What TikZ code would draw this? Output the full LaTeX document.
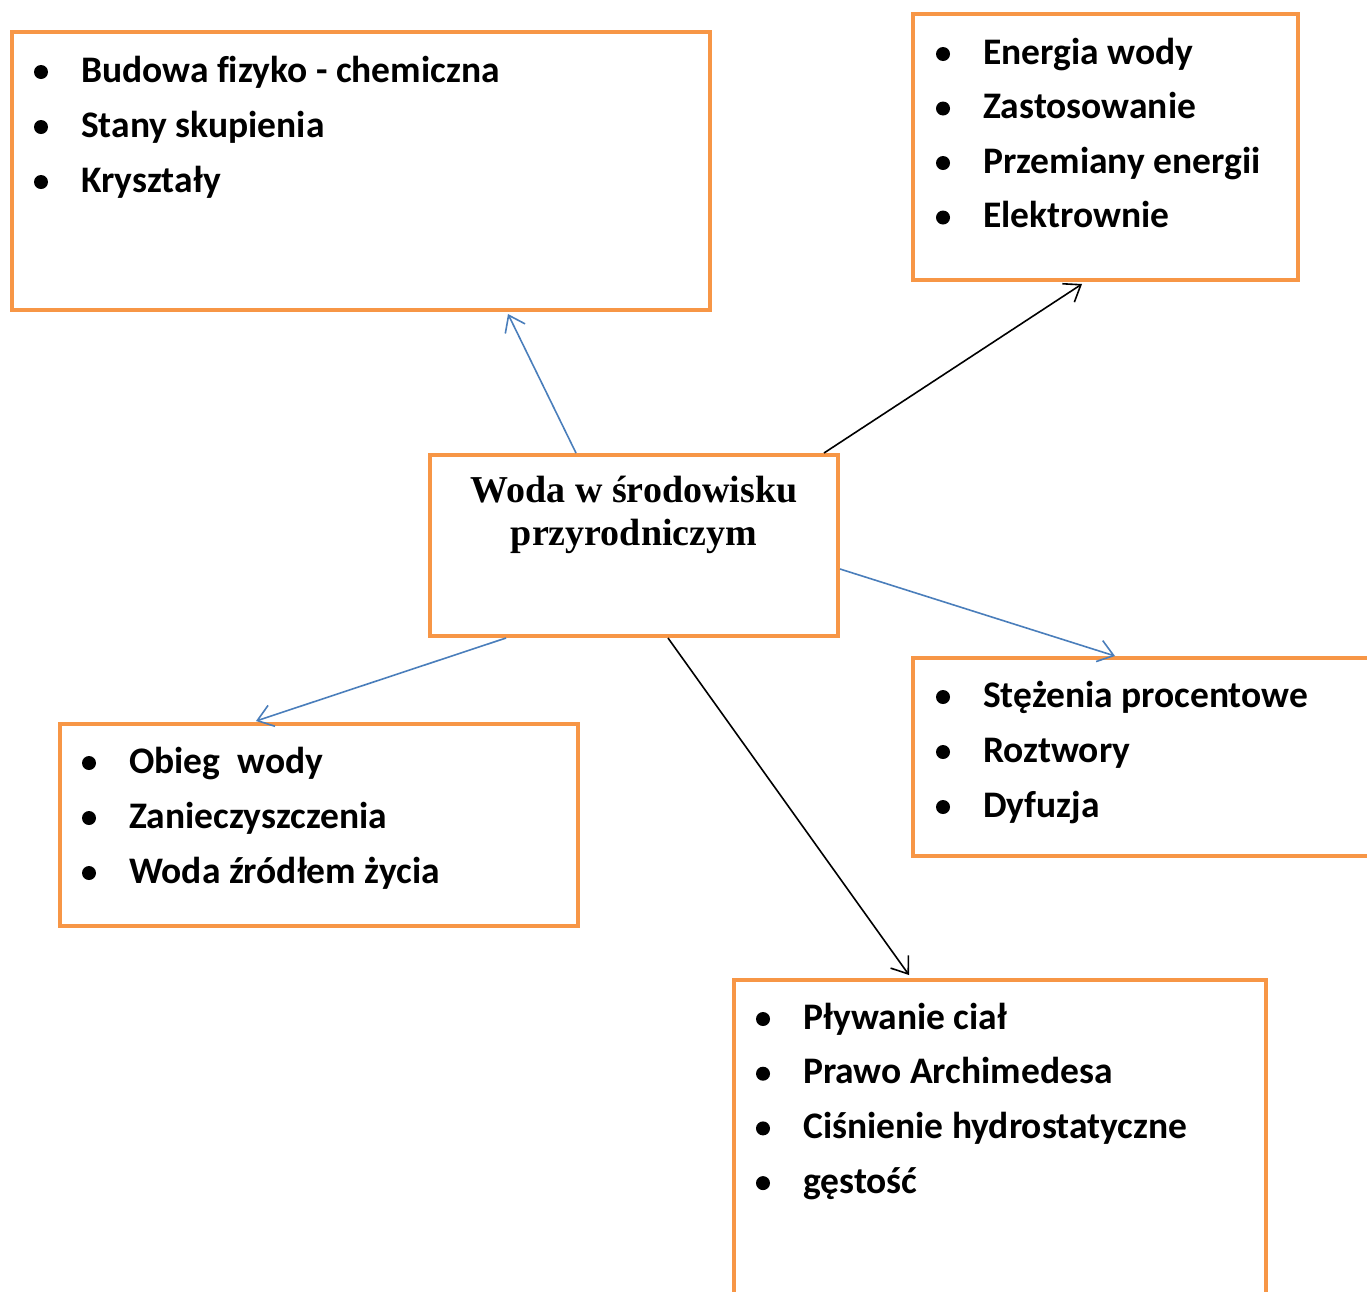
\documentclass[tikz,border=0pt]{standalone}
\usepackage{fontspec}
\setmainfont[Ligatures=NoCommon]{Carlito}
\newfontfamily\tnrfont{Liberation Serif}
\usetikzlibrary{arrows.meta,calc}
\definecolor{boxorange}{HTML}{F79646}
\definecolor{lineblue}{HTML}{4A7EBB}
\begin{document}
\begin{tikzpicture}[x=1pt,y=-1pt,
  box/.style={draw=boxorange, line width=4pt, inner sep=0pt, fill=none},
  item/.style={anchor=base west, inner sep=0pt, font=\fontsize{37.5}{44}\selectfont\bfseries},
  bul/.style={circle, fill=black, inner sep=0pt, minimum size=14pt},
  conn/.style={line width=1.6pt, -{Straight Barb[length=15pt,width=22pt,line width=1.6pt]}},
  blueconn/.style={conn, draw=lineblue},
  blackconn/.style={conn, draw=black}
]
\useasboundingbox (0,0) rectangle (1367,1291);
\fill[white] (0,0) rectangle (1367,1291);

\node[box, minimum width=698pt, minimum height=278pt] (b1) at (361,171) {};
\node[box, minimum width=385pt, minimum height=266pt] (b2) at (1105.5,147) {};
\node[box, minimum width=408pt, minimum height=181pt] (bc) at (634,545.5) {};
\node[box, minimum width=467pt, minimum height=198pt] (b4) at (1146.5,757) {};
\node[box, minimum width=518pt, minimum height=202pt] (b5) at (319,825) {};
\node[box, minimum width=532pt, minimum height=330pt] (b6) at (1000,1145) {};

\node[anchor=base, inner sep=0pt, align=center, font=\tnrfont\fontsize{38}{43}\selectfont\bfseries] (title) at (634,545) {Woda w środowisku\\przyrodniczym};

\foreach \t [count=\i] in {Budowa fizyko - chemiczna, Stany skupienia, Kryształy} {
  \node[item, name=ta\i] at ($(b1.north west)+(71,52+55*\i-55)$) {\t};
  \node[bul, name=da\i] at ($(ta\i.base west)+(-40,-10)$) {};
}
\foreach \t [count=\i] in {Energia wody, Zastosowanie, Przemiany energii, Elektrownie} {
  \node[item, name=tb\i] at ($(b2.north west)+(72,52+54.5*\i-54.5)$) {\t};
  \node[bul, name=db\i] at ($(tb\i.base west)+(-40,-10)$) {};
}
\foreach \t [count=\i] in {Stężenia procentowe, Roztwory, Dyfuzja} {
  \node[item, name=tc\i] at ($(b4.north west)+(72,51+55*\i-55)$) {\t};
  \node[bul, name=dc\i] at ($(tc\i.base west)+(-40,-10)$) {};
}
\foreach \t [count=\i] in {Obieg\ \ wody, Zanieczyszczenia, Woda źródłem życia} {
  \node[item, name=td\i] at ($(b5.north west)+(71,51+55*\i-55)$) {\t};
  \node[bul, name=dd\i] at ($(td\i.base west)+(-40,-10)$) {};
}
\foreach \t [count=\i] in {Pływanie ciał, Prawo Archimedesa, Ciśnienie hydrostatyczne, gęstość} {
  \node[item, name=te\i] at ($(b6.north west)+(71,51+54.7*\i-54.7)$) {\t};
  \node[bul, name=de\i] at ($(te\i.base west)+(-40,-10)$) {};
}

\draw[blueconn] ($(bc.north west)+(148,0)$) -- ($(b1.south west)+(498,2)$);
\draw[blackconn] ($(bc.north west)+(396,0)$) -- ($(b2.south west)+(171,2)$);
\draw[blueconn] ($(bc.north east)+(0,116)$) -- ($(b4.north west)+(204,0)$);
\draw[blueconn] ($(bc.south west)+(78,0)$) -- ($(b5.north west)+(198,-1)$);
\draw[blackconn] ($(bc.south west)+(240,0)$) -- ($(b6.north west)+(177,-3)$);
\end{tikzpicture}
\end{document}
